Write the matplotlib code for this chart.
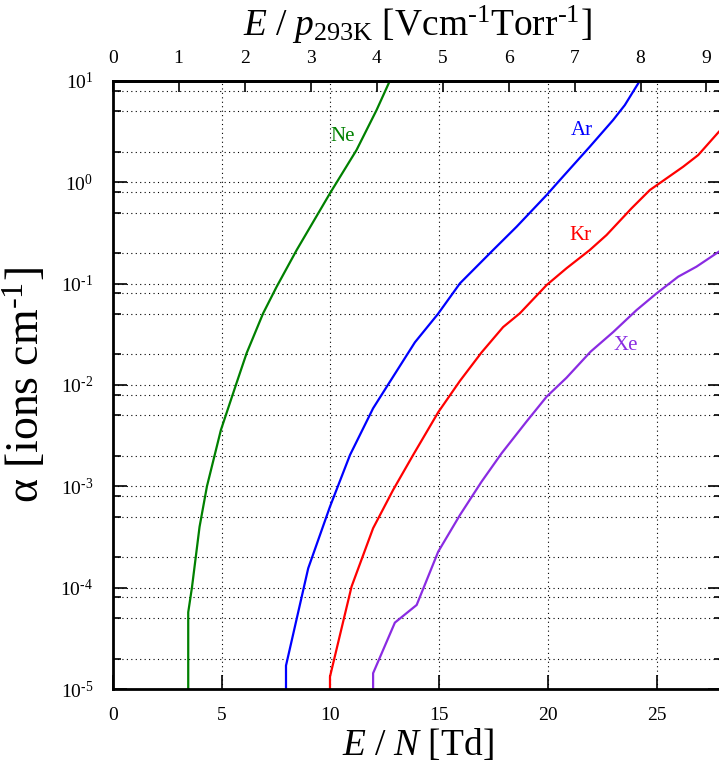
import numpy as np
import matplotlib
matplotlib.use('Agg')
import matplotlib.pyplot as plt
from matplotlib.ticker import FixedLocator, NullFormatter

plt.rcParams['font.family'] = ['Liberation Serif', 'DejaVu Serif']
plt.rcParams['mathtext.fontset'] = 'custom'
plt.rcParams['mathtext.rm'] = 'Liberation Serif'
plt.rcParams['mathtext.it'] = 'Liberation Serif:italic'

# E/N [Td] and log10(alpha)
ne_x = [3.47, 3.47, 3.64, 3.99, 4.33, 4.97, 5.66, 6.15, 6.91, 7.53, 8.45, 9.98, 11.20, 12.12, 12.73]
ne_logy = [-5.0, -4.243, -4.0, -3.4, -3.0, -2.445, -2.0, -1.688, -1.294, -1.032, -0.670, -0.110, 0.317, 0.711, 1.0]

ar_x = [7.96, 7.96, 8.98, 9.98, 10.9, 11.96, 12.64, 13.88, 14.94, 15.95, 17.47, 18.55, 19.93,
        20.54, 21.91, 22.98, 23.52, 24.21]
ar_logy = [-5.0, -4.769, -3.809, -3.201, -2.691, -2.231, -2.0, -1.58, -1.30, -0.998, -0.670,
           -0.440, -0.127, 0.021, 0.349, 0.612, 0.760, 1.0]

kr_x = [9.98, 9.98, 10.97, 11.96, 12.88, 13.8, 14.95, 15.95, 16.94, 17.93, 18.7, 19.93, 20.84, 21.91,
        22.68, 23.83, 24.67, 26.2, 26.89, 27.84, 28.0]
kr_logy = [-5.0, -4.878, -3.990, -3.414, -3.036, -2.691, -2.27, -1.96, -1.68, -1.43, -1.294, -1.015,
           -0.850, -0.670, -0.522, -0.258, -0.078, 0.152, 0.267, 0.497, 0.53]

xe_x = [11.96, 11.96, 12.96, 13.96, 14.95, 15.95, 16.94, 17.86, 19.0, 19.93, 20.84, 21.95, 22.98,
        24.06, 24.98, 25.97, 26.81, 27.84, 28.0]
xe_logy = [-5.0, -4.844, -4.345, -4.171, -3.645, -3.283, -2.955, -2.675, -2.363, -2.116, -1.93, -1.672,
           -1.48, -1.262, -1.097, -0.933, -0.834, -0.686, -0.665]

gases = ['Ne', 'Ar', 'Kr', 'Xe']
colors = ['#008000', '#0000ff', '#ff0000', '#8a2be2']
label_pos = [(10.57, 2.79), (21.55, 3.26), (21.5, 0.30), (23.55, 0.0245)]

td_per_vcmtorr = 3.03  # E/N [Td] for 1 V/cm/Torr at 293 K

fig = plt.figure(figsize=(7.19, 7.69), dpi=100)
ax = fig.add_axes([0.1567, 0.104, 0.848, 0.791])

for g, xs, ly, c, (tx, ty) in zip(gases, [ne_x, ar_x, kr_x, xe_x], [ne_logy, ar_logy, kr_logy, xe_logy],
                                   colors, label_pos):
    ax.plot(xs, 10 ** np.array(ly), color=c, lw=1.6)
    ax.text(tx, ty, g, color=c, fontsize=15, ha='center', va='center')

ax.set_yscale('log')
ax.set_xlim(0, 28)
ax.set_ylim(1e-5, 10)

# y ticks: decades plus 2, 5, 8 in each decade
decades = [10.0 ** k for k in range(-5, 2)]
minors = [m * 10.0 ** k for k in range(-5, 1) for m in (2, 5, 8)]
ax.yaxis.set_major_locator(FixedLocator(decades))
ax.yaxis.set_minor_locator(FixedLocator(minors))
ax.yaxis.set_minor_formatter(NullFormatter())
ax.set_yticklabels([r'$10^{\text{-}%d}$' % -k if k < 0 else r'$10^{%d}$' % k for k in range(-5, 2)])
ax.set_xticks([0, 5, 10, 15, 20, 25])

ax.tick_params(axis='y', which='major', direction='in', length=10, width=1.2, left=True, right=True,
               labelsize=14, pad=14)
ax.tick_params(axis='y', which='minor', direction='in', length=6, width=1.2, left=True, right=True)
ax.tick_params(axis='x', which='major', direction='in', length=10, width=1.2, top=False,
               labelsize=14, pad=13)

ax.grid(True, which='both', axis='y', color='black', linestyle=(0, (1, 3)), linewidth=0.8)
ax.grid(True, which='major', axis='x', color='black', linestyle=(0, (1, 3)), linewidth=0.8)
for s in ax.spines.values():
    s.set_linewidth(2)

sec = ax.secondary_xaxis('top', functions=(lambda x: x / td_per_vcmtorr, lambda x: x * td_per_vcmtorr))
sec.set_xticks(range(10))
sec.tick_params(direction='in', length=8, width=1.2, labelsize=14, pad=10)
sec.spines['top'].set_linewidth(2)
# top axis title, placed by hand above the tick labels
ax.text(0.5, 1.092, r'$E\ /\ p_{\mathrm{293K}}\ \mathrm{[Vcm^{\text{-}1}Torr^{\text{-}1}]}$',
        transform=ax.transAxes, fontsize=27, ha='center', va='center')

ax.set_xlabel(r'$E\ /\ N\ \mathrm{[Td]}$', fontsize=27)
ax.xaxis.set_label_coords(0.5, -0.062)
ax.set_ylabel(r'$\mathrm{\alpha\ [ions\ cm^{\text{-}1}]}$', fontsize=33)
ax.yaxis.set_label_coords(-0.105, 0.5)

fig.savefig('out.png', dpi=100)
